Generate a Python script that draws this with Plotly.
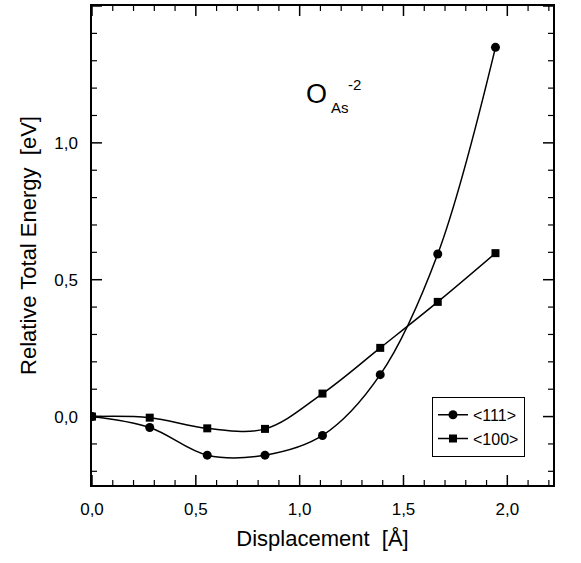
import plotly.graph_objects as go

# Data
disp = [0.0, 0.278, 0.555, 0.833, 1.11, 1.388, 1.665, 1.943]
e_111 = [0.0, -0.040, -0.141, -0.141, -0.069, 0.153, 0.594, 1.349]
e_100 = [0.0, -0.004, -0.043, -0.045, 0.084, 0.251, 0.419, 0.597]
series_names = ["<111>", "<100>"]

X_RANGE = [0, 2.22]
Y_RANGE = [-0.25, 1.5]
MAJOR_STEP = 0.5
MINOR_STEP = 0.1

FONT = "Liberation Sans, Arial, Helvetica, sans-serif"

W, H = 581, 563
M = dict(l=92, r=28, t=6, b=78)
PLOT_W = W - M["l"] - M["r"]
PLOT_H = H - M["t"] - M["b"]

fig = go.Figure()
fig.add_trace(go.Scatter(
    x=disp, y=e_111, name=series_names[0], mode="lines+markers",
    line=dict(color="black", width=1.5, shape="spline", smoothing=1.0),
    marker=dict(symbol="circle", size=9, color="black"),
))
fig.add_trace(go.Scatter(
    x=disp, y=e_100, name=series_names[1], mode="lines+markers",
    line=dict(color="black", width=1.5, shape="spline", smoothing=1.0),
    marker=dict(symbol="square", size=8, color="black"),
))

axis_common = dict(
    showline=True, linecolor="black", linewidth=1.5, mirror=True,
    ticks="", showgrid=False, zeroline=False,
    tickfont=dict(family=FONT, size=17, color="black"),
    tickformat=".1f",
)


def tick_values(lo, hi, step):
    vals = []
    i = 0
    while True:
        v = round(i * step, 6)
        if v > hi + 1e-9:
            break
        if v >= lo - 1e-9:
            vals.append(v)
        i += 1
    i = -1
    while True:
        v = round(i * step, 6)
        if v < lo - 1e-9:
            break
        vals.append(v)
        i -= 1
    return sorted(vals)


def is_major(v):
    r = v / MAJOR_STEP
    return abs(r - round(r)) < 1e-6


# inward tick marks on all four sides (major every 0.5, minor every 0.1)
shapes = []
for v in tick_values(X_RANGE[0], X_RANGE[1], MINOR_STEP):
    ln, lw = (10, 1.5) if is_major(v) else (5, 1.2)
    f = ln / PLOT_H
    shapes.append(dict(type="line", xref="x", yref="y domain", x0=v, x1=v, y0=0, y1=f,
                       line=dict(color="black", width=lw), layer="above"))
    shapes.append(dict(type="line", xref="x", yref="y domain", x0=v, x1=v, y0=1, y1=1 - f,
                       line=dict(color="black", width=lw), layer="above"))
for v in tick_values(Y_RANGE[0], Y_RANGE[1], MINOR_STEP):
    ln, lw = (10, 1.5) if is_major(v) else (5, 1.2)
    f = ln / PLOT_W
    shapes.append(dict(type="line", xref="x domain", yref="y", x0=0, x1=f, y0=v, y1=v,
                       line=dict(color="black", width=lw), layer="above"))
    shapes.append(dict(type="line", xref="x domain", yref="y", x0=1, x1=1 - f, y0=v, y1=v,
                       line=dict(color="black", width=lw), layer="above"))

fig.update_layout(
    template="none",
    width=W, height=H,
    margin=M,
    paper_bgcolor="white", plot_bgcolor="white",
    separators=", ",
    xaxis=dict(range=X_RANGE, dtick=MAJOR_STEP, tick0=0, ticklabelstandoff=8,
               title=dict(text="Displacement\u00a0\u00a0[Å]",
                          font=dict(family=FONT, size=22, color="black"), standoff=12),
               **axis_common),
    yaxis=dict(range=Y_RANGE, dtick=MAJOR_STEP, tick0=0, ticklabelstandoff=9,
               title=dict(text="Relative Total Energy\u00a0\u00a0[eV]",
                          font=dict(family=FONT, size=22, color="black"), standoff=12),
               **axis_common),
    shapes=shapes,
    showlegend=True,
    legend=dict(
        x=0.7375, y=0.184, xanchor="left", yanchor="top",
        bordercolor="black", borderwidth=1, bgcolor="white",
        font=dict(family=FONT, size=16, color="black"),
        tracegroupgap=0, itemwidth=30,
    ),
    font=dict(family=FONT, color="black"),
)

# O_As^-2 label
fig.add_annotation(x=1.08, y=1.18, xref="x", yref="y", text="O", showarrow=False,
                   font=dict(family=FONT, size=27, color="black"))
fig.add_annotation(x=1.14, y=1.13, xref="x", yref="y", text="As", showarrow=False,
                   xanchor="left", font=dict(family=FONT, size=15, color="black"))
fig.add_annotation(x=1.225, y=1.215, xref="x", yref="y", text="-2", showarrow=False,
                   xanchor="left", font=dict(family=FONT, size=15, color="black"))

fig.write_html("out.html", post_script="document.body.style.margin='0';",
               config={"displayModeBar": False})
